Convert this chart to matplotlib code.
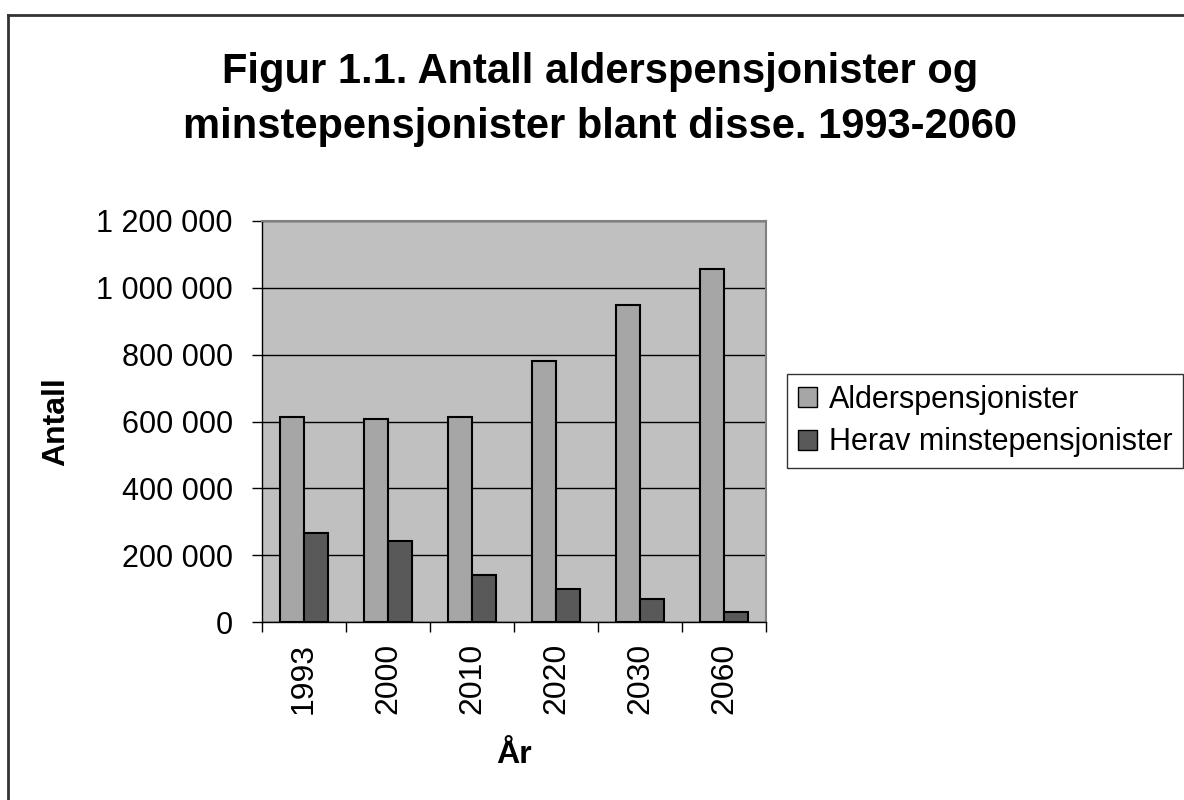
import numpy as np
import matplotlib.pyplot as plt
from matplotlib.lines import Line2D

plt.rcParams['font.family'] = ['Liberation Sans', 'DejaVu Sans']

# data
years = ['1993', '2000', '2010', '2020', '2030', '2060']
alderspensjonister = [612000, 606000, 612000, 781000, 949000, 1056000]
minstepensjonister = [266000, 242000, 140000, 98000, 68000, 31000]
y_ticks = [0, 200000, 400000, 600000, 800000, 1000000, 1200000]

W, H = 1184, 800
fig = plt.figure(figsize=(W / 100, H / 100), dpi=100)
ax = fig.add_axes([262 / W, 1 - 622 / H, 504 / W, 401 / H])
ax.set_facecolor('#C0C0C0')

x = np.arange(len(years))
w = 0.286
ax.bar(x - w / 2, alderspensjonister, w, color='#A6A6A6', edgecolor='black',
       linewidth=1.5, label='Alderspensjonister', zorder=3)
ax.bar(x + w / 2, minstepensjonister, w, color='#595959', edgecolor='black',
       linewidth=1.5, label='Herav minstepensjonister', zorder=3)

ax.set_xlim(-0.5, len(years) - 0.5)
ax.set_ylim(0, 1200000)
ax.set_yticks(y_ticks)
ax.set_yticklabels([f'{v:,}'.replace(',', ' ') for v in y_ticks], fontsize=22)
ax.yaxis.grid(True, color='black', linewidth=1, zorder=1)
ax.tick_params(axis='y', direction='out', length=7, width=1, pad=14)

ax.set_xticks(x)
ax.set_xticklabels(years, rotation=90, fontsize=23)
ax.set_xticks(np.arange(-0.5, len(years)), minor=True)
ax.tick_params(axis='x', which='major', length=0, pad=15)
ax.tick_params(axis='x', which='minor', direction='out', length=7, width=1)

for side in ['top', 'right']:
    ax.spines[side].set_color('#808080')
    ax.spines[side].set_linewidth(1.5)
for side in ['left', 'bottom']:
    ax.spines[side].set_color('black')
    ax.spines[side].set_linewidth(1)

# axis titles
fig.text(56 / W, 1 - 422 / H, 'Antall', rotation=90, ha='center', va='center',
         fontsize=23, fontweight='bold')
fig.text(514 / W, 1 - 755 / H, 'År', ha='center', va='center',
         fontsize=23, fontweight='bold')

# title, two lines
fig.text(600 / W, 1 - 83 / H, 'Figur 1.1. Antall alderspensjonister og',
         ha='center', va='baseline', fontsize=30, fontweight='bold')
fig.text(600 / W, 1 - 138 / H, 'minstepensjonister blant disse. 1993-2060',
         ha='center', va='baseline', fontsize=30, fontweight='bold')

leg = ax.legend(loc='center left', bbox_to_anchor=(787 / W, 1 - 421 / H),
                bbox_transform=fig.transFigure, fontsize=22, frameon=True,
                fancybox=False, edgecolor='black', handlelength=0.62,
                handleheight=0.62, handletextpad=0.4, borderpad=0.35,
                labelspacing=0.42, borderaxespad=0)
leg.get_frame().set_linewidth(1)
for h in leg.legend_handles:
    h.set_linewidth(1)

# chart-area border (top and left edges visible)
fig.add_artist(Line2D([8 / W, 1], [1 - 15 / H, 1 - 15 / H],
                      transform=fig.transFigure, color='#333333', linewidth=2))
fig.add_artist(Line2D([8 / W, 8 / W], [0, 1 - 15 / H],
                      transform=fig.transFigure, color='#333333', linewidth=2))

fig.savefig('out.png', dpi=100)
